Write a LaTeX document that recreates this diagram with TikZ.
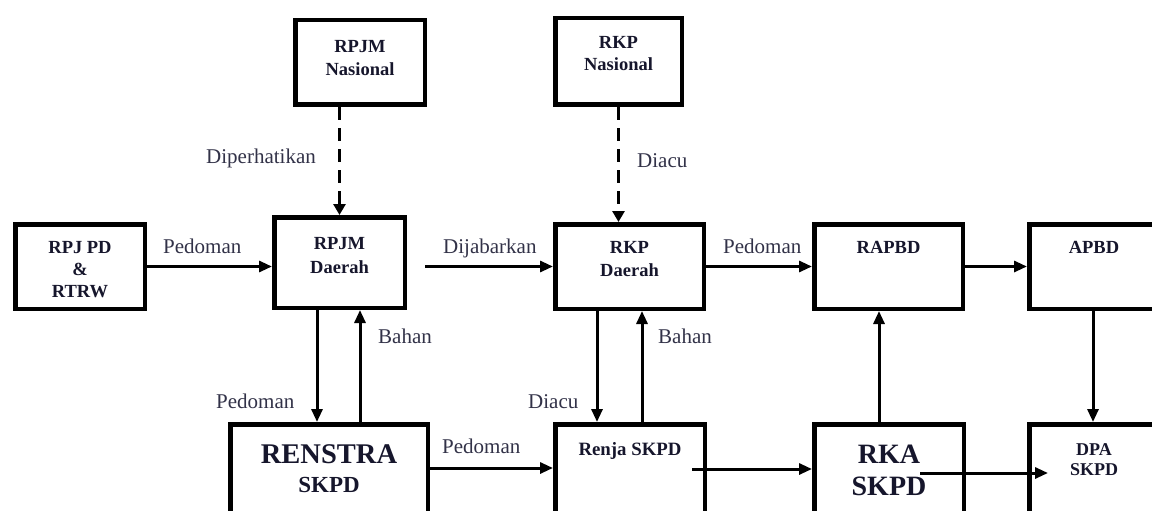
\documentclass[tikz,border=0pt]{standalone}
\usepackage{fontspec}
\setmainfont{Liberation Serif}
\usetikzlibrary{calc,arrows.meta}
\definecolor{hurufkotak}{RGB}{22,22,44}
\definecolor{hurufket}{RGB}{50,50,72}

\begin{document}
\begin{tikzpicture}[x=1pt,y=-1pt]
%
% Styles
%
\tikzset{every node/.style={inner sep=0pt}};%
\tikzset{kotak/.style={draw, line width=4.5pt, anchor=north west}};%
\tikzset{judul/.style={anchor=north, align=center, text=hurufkotak, font=\bfseries\fontsize{18.5}{23}\selectfont}};%
\tikzset{ket/.style={anchor=base west, text=hurufket, font=\fontsize{21}{24}\selectfont}};%
\tikzset{panah/.style={-{Triangle[length=13pt,width=11pt]}, line width=3pt}};%
\tikzset{putus/.style={-{Triangle[length=11pt,width=12pt]}, line width=3.5pt, dash pattern=on 13pt off 8pt}};%

%
% Macros
%
\pgfmathsetmacro{\lebar}{148.5};%
\pgfmathsetmacro{\tinggi}{84.5};%
\pgfmathsetmacro{\bawah}{135.5};%

\useasboundingbox (0,0) rectangle (1152,511);%
\clip (0,0) rectangle (1152,511);%
\fill[white] (0,0) rectangle (1152,511);%

%
% Boxes
%
\node[kotak, minimum width=129.5, minimum height=84.5] (rpjmn) at (293,18) {};%
\node[kotak, minimum width=126.5, minimum height=86.5] (rkpn) at (553,16) {};%
\node[kotak, minimum width=129.5, minimum height=\tinggi] (rpjpd) at (13,222) {};%
\node[kotak, minimum width=130.5, minimum height=90.5] (rpjmd) at (272,215) {};%
\node[kotak, minimum width=\lebar, minimum height=\tinggi] (rkpd) at (553,222) {};%
\node[kotak, minimum width=\lebar, minimum height=\tinggi] (rapbd) at (812,222) {};%
\node[kotak, minimum width=158.5, minimum height=\tinggi] (apbd) at (1027,222) {};%
\node[kotak, minimum width=197.5, minimum height=\bawah] (renstra) at (228,422) {};%
\node[kotak, minimum width=149.5, minimum height=\bawah] (renja) at (553,422) {};%
\node[kotak, minimum width=149.5, minimum height=\bawah] (rka) at (812,422) {};%
\node[kotak, minimum width=158.5, minimum height=\bawah] (dpa) at (1027,422) {};%

%
% Box texts
%
\node[judul] (rpjmnT) at ([yshift=-21.8pt]rpjmn.north) {RPJM\\Nasional};%
\node[judul, font=\bfseries\fontsize{18.5}{22}\selectfont] (rkpnT) at ([yshift=-19.8pt]rkpn.north) {RKP\\Nasional};%
\node[judul, font=\bfseries\fontsize{18.5}{22}\selectfont] (rpjpdT) at ([yshift=-18.8pt]rpjpd.north) {RPJ PD\\\&\\RTRW};%
\node[judul, font=\bfseries\fontsize{18.5}{24}\selectfont] (rpjmdT) at ([yshift=-21.8pt]rpjmd.north) {RPJM\\Daerah};%
\node[judul] (rkpdT) at ([yshift=-18.8pt]rkpd.north) {RKP\\Daerah};%
\node[judul] (rapbdT) at ([yshift=-18.8pt]rapbd.north) {RAPBD};%
\node[judul] (apbdT) at ([xshift=67pt,yshift=-18.8pt]apbd.north west) {APBD};%
\node[judul, font=\bfseries\fontsize{28.5}{29}\selectfont] (renstraT) at ([yshift=-22.1pt]renstra.north) {RENSTRA\\{\fontsize{23}{29}\selectfont SKPD}};%
\node[judul, font=\bfseries\fontsize{18.8}{23}\selectfont] (renjaT) at ([yshift=-20.4pt]renja.north) {Renja SKPD};%
\node[judul, font=\bfseries\fontsize{28}{32}\selectfont] (rkaT) at ([yshift=-22.5pt]rka.north) {RKA\\SKPD};%
\node[judul, font=\bfseries\fontsize{18}{20}\selectfont] (dpaT) at ([xshift=67pt,yshift=-21pt]dpa.north west) {DPA\\SKPD};%

%
% Connectors, top row
%
\draw[panah] (rpjpd.east) -- (rpjpd.east -| rpjmd.west);%
\coordinate (jabar) at ([xshift=18pt]rpjmd.east);%
\draw[panah] (jabar |- rkpd.west) -- (rkpd.west);%
\draw[panah] (rkpd.east) -- (rapbd.west);%
\draw[panah] (rapbd.east) -- (apbd.west);%
\draw[putus] (rpjmd.north |- rpjmn.south) -- (rpjmd.north);%
\draw[putus] (rkpn.south) -- (rkpn.south |- rkpd.north);%

%
% Connectors, up and down
%
\coordinate (turunA) at ([xshift=-22.5pt]rpjmd.south);%
\coordinate (naikA) at ([xshift=20.5pt]rpjmd.south);%
\coordinate (turunB) at ([xshift=-32.5pt]rkpd.south);%
\coordinate (naikB) at ([xshift=12.5pt]rkpd.south);%
\coordinate (naikC) at ([xshift=-10pt]rka.north);%
\coordinate (turunC) at ([xshift=66pt]apbd.south west);%
\draw[panah] (turunA) -- (turunA |- renstra.north);%
\draw[panah] (naikA |- renstra.north) -- (naikA);%
\draw[panah] (turunB) -- (turunB |- renja.north);%
\draw[panah] (naikB |- renja.north) -- (naikB);%
\draw[panah] (naikC) -- (naikC |- rapbd.south);%
\draw[panah] (turunC) -- (turunC |- dpa.north);%

%
% Connectors, bottom row
%
\coordinate (renstraK) at ([yshift=-46pt]renstra.north east);%
\coordinate (renjaK) at ([xshift=-15pt,yshift=-47pt]renja.north east);%
\coordinate (rkaK) at ([xshift=-46pt,yshift=-51pt]rka.north east);%
\coordinate (dpaK) at ([xshift=21pt]dpa.west);%
\draw[panah] (renstraK) -- (renstraK -| renja.west);%
\draw[panah] (renjaK) -- (renjaK -| rka.west);%
\draw[panah] (rkaK) -- (rkaK -| dpaK);%

%
% Labels
%
\node[ket] (kPedomanA) at (163,253) {Pedoman};%
\node[ket] (kJabar) at (443,253) {Dijabarkan};%
\node[ket] (kPedomanB) at (723,253) {Pedoman};%
\node[ket] (kPerhati) at (206,163) {Diperhatikan};%
\node[ket] (kDiacuA) at (637,167) {Diacu};%
\node[ket] (kBahanA) at (378,343) {Bahan};%
\node[ket] (kPedomanC) at (216,408) {Pedoman};%
\node[ket] (kPedomanD) at (442,453) {Pedoman};%
\node[ket] (kDiacuB) at (528,408) {Diacu};%
\node[ket] (kBahanB) at (658,343) {Bahan};%
\end{tikzpicture}
\end{document}
